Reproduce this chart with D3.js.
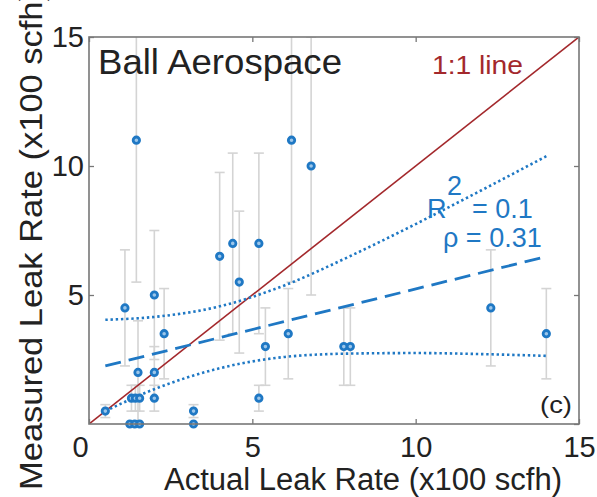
<!DOCTYPE html>
<html>
<head>
<meta charset="utf-8">
<script src="https://cdn.jsdelivr.net/npm/d3@7"></script>
<style>
  body { margin: 0; background: #fff; }
  svg { display: block; font-family: "Liberation Sans", Arial, sans-serif; }
</style>
</head>
<body>
<svg width="597" height="497"></svg>
<script>
// measured leak rate vs actual leak rate (x100 scfh)
var actual   = [0.5, 1.1, 1.45, 1.3, 1.42, 1.55, 1.25, 1.4, 1.55, 1.5, 2.0, 2.0, 2.0, 2.3, 4.0, 4.4, 4.6, 5.2, 3.2, 3.2, 5.2, 5.4, 6.1, 6.2, 6.8, 7.8, 8.0, 12.3, 14.0];
var measured = [0.5, 4.5, 11.0, 1.0, 1.0, 1.0, 0, 0, 0, 2.0, 5.0, 2.0, 1.0, 3.5, 6.5, 7.0, 5.5, 7.0, 0.5, 0, 1.0, 3.0, 3.5, 11.0, 10.0, 3.0, 3.0, 4.5, 3.5];
var errs     = [0.25, 2.25, 5.5, 0.5, 0.5, 0.5, 0, 0, 0, 2.0, 2.5, 1.0, 0.5, 1.75, 3.25, 3.5, 2.75, 3.5, 0.25, 0, 0.5, 1.5, 1.75, 5.5, 5.0, 1.5, 1.5, 2.25, 1.75];

// fit line and confidence band
var regX = [0.5, 14];
var regY = [2.25, 6.49];
var bandX     = [0.5, 2, 4, 6, 8, 10, 12, 14];
var bandUpper = [4.04, 4.15, 4.56, 5.38, 6.51, 7.75, 9.05, 10.38];
var bandLower = [0.5, 1.35, 2.16, 2.6, 2.73, 2.75, 2.71, 2.64];

var oneToOne = [0, 15];
var tickVals = [0, 5, 10, 15];

var blue = "#1f78c4", red = "#a3282c", gray = "#777";

var svg = d3.select("svg");
var x = d3.scaleLinear().domain([0, 15]).range([89, 579]);
var y = d3.scaleLinear().domain([0, 15]).range([424, 37]);

var data = actual.map(function(a, i) { return {x: a, y: measured[i], e: errs[i]}; });

svg.append("clipPath").attr("id", "plotClip")
  .append("rect").attr("x", 89).attr("y", 37).attr("width", 490).attr("height", 387);

var inner = svg.append("g").attr("clip-path", "url(#plotClip)");

// error bars
var eb = inner.append("g").selectAll("g").data(data.filter(function(d) { return d.e > 0; }))
  .enter().append("g")
  .style("stroke", "#d4d4d4").style("stroke-width", 1.6);
eb.append("line")
  .attr("x1", function(d) { return x(d.x); }).attr("x2", function(d) { return x(d.x); })
  .attr("y1", function(d) { return y(d.y - d.e); }).attr("y2", function(d) { return y(d.y + d.e); });
eb.append("line")
  .attr("x1", function(d) { return x(d.x) - 5; }).attr("x2", function(d) { return x(d.x) + 5; })
  .attr("y1", function(d) { return y(d.y - d.e); }).attr("y2", function(d) { return y(d.y - d.e); });
eb.append("line")
  .attr("x1", function(d) { return x(d.x) - 5; }).attr("x2", function(d) { return x(d.x) + 5; })
  .attr("y1", function(d) { return y(d.y + d.e); }).attr("y2", function(d) { return y(d.y + d.e); });

// markers
svg.append("g").selectAll("circle").data(data).enter().append("circle")
  .attr("cx", function(d) { return x(d.x); })
  .attr("cy", function(d) { return y(d.y); })
  .attr("r", 3.2)
  .style("fill", "#9cc6ea")
  .style("stroke", blue)
  .style("stroke-width", 2.8);

// 1:1 line
inner.append("line")
  .attr("x1", x(oneToOne[0])).attr("y1", y(oneToOne[0]))
  .attr("x2", x(oneToOne[1])).attr("y2", y(oneToOne[1]))
  .style("stroke", red).style("stroke-width", 1.6);

// regression + confidence band
var band = d3.line().x(function(d) { return x(d[0]); }).y(function(d) { return y(d[1]); }).curve(d3.curveMonotoneX);
inner.append("path").attr("d", band(d3.zip(bandX, bandUpper)))
  .style("fill", "none").style("stroke", blue).style("stroke-width", 2.6).style("stroke-dasharray", "2.4,2.8");
inner.append("path").attr("d", band(d3.zip(bandX, bandLower)))
  .style("fill", "none").style("stroke", blue).style("stroke-width", 2.6).style("stroke-dasharray", "2.4,2.8");
inner.append("path").attr("d", band(d3.zip(regX, regY)))
  .style("fill", "none").style("stroke", blue).style("stroke-width", 2.8).style("stroke-dasharray", "16,8");

// axes box and ticks
var xAxis = svg.append("g").attr("transform", "translate(0,424)")
  .call(d3.axisBottom(x).tickValues(tickVals).tickSize(-5).tickPadding(12.5).tickFormat(d3.format("d")));
var yAxis = svg.append("g").attr("transform", "translate(89,0)")
  .call(d3.axisLeft(y).tickValues(tickVals.slice(1)).tickSize(-5).tickPadding(5).tickFormat(d3.format("d")));
svg.append("g").attr("transform", "translate(0,37)")
  .call(d3.axisTop(x).tickValues(tickVals).tickSize(-5).tickFormat(""));
svg.append("g").attr("transform", "translate(579,0)")
  .call(d3.axisRight(y).tickValues(tickVals).tickSize(-5).tickFormat(""));
svg.selectAll(".domain").remove();
svg.selectAll(".tick line").style("stroke", gray).style("stroke-width", 1.3);
svg.selectAll(".tick text").style("font-size", "29px").style("fill", "#222")
  .style("font-family", "'Liberation Sans', Arial, sans-serif");
xAxis.selectAll(".tick text").filter(function(d) { return d === 0; }).attr("x", -9);

svg.append("rect").attr("x", 89).attr("y", 37).attr("width", 490).attr("height", 387)
  .style("fill", "none").style("stroke", gray).style("stroke-width", 1.6);

// labels
svg.append("text").attr("x", 164).attr("y", 490)
  .attr("textLength", 398).attr("lengthAdjust", "spacingAndGlyphs")
  .style("font-size", "31px").style("fill", "#222").text("Actual Leak Rate (x100 scfh)");
svg.append("text").attr("transform", "translate(42,490) rotate(-90)")
  .attr("textLength", 500).attr("lengthAdjust", "spacingAndGlyphs")
  .style("font-size", "32px").style("fill", "#222").text("Measured Leak Rate (x100 scfh)");

svg.append("text").attr("x", 98).attr("y", 74)
  .attr("textLength", 244).attr("lengthAdjust", "spacingAndGlyphs")
  .style("font-size", "35px").style("fill", "#222").text("Ball Aerospace");
svg.append("text").attr("x", 432).attr("y", 74)
  .attr("textLength", 91).attr("lengthAdjust", "spacingAndGlyphs")
  .style("font-size", "25px").style("fill", red).text("1:1 line");
svg.append("text").attr("x", 540).attr("y", 413)
  .attr("textLength", 32).attr("lengthAdjust", "spacingAndGlyphs")
  .style("font-size", "24px").style("fill", "#222").text("(c)");

var stats = svg.append("g").style("fill", blue).style("font-size", "27px");
stats.append("text").attr("x", 427).attr("y", 218).text("R");
stats.append("text").attr("x", 447).attr("y", 195).text("2");
stats.append("text").attr("x", 472).attr("y", 218).text("= 0.1");
stats.append("text").attr("x", 443).attr("y", 247).text("\u03c1 = 0.31");
</script>
</body>
</html>
